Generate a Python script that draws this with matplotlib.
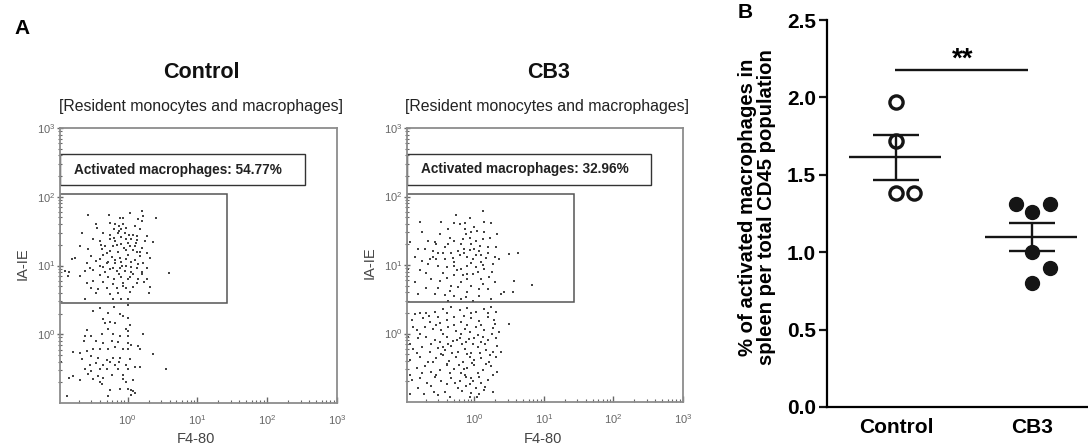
import numpy as np
import matplotlib
matplotlib.use('Agg')
import matplotlib.pyplot as plt
import matplotlib.patches as patches

plt.rcParams['font.family'] = ['Liberation Sans', 'DejaVu Sans']
plt.rcParams['mathtext.default'] = 'regular'

# ═══════════════════════════════════════════════════════════
#  Data
# ═══════════════════════════════════════════════════════════

# flow events, (log10 F4-80, log10 IA-IE)
ctrl_upper = [
    (-0.57, 1.74), (-0.27, 1.73), (-0.11, 1.69), (-0.06, 1.69), (0.04, 1.76), (0.21, 1.79),
    (0.22, 1.72), (0.41, 1.69), (-0.45, 1.60), (-0.26, 1.62), (-0.18, 1.61), (-0.12, 1.58),
    (-0.07, 1.60), (0.15, 1.67), (0.20, 1.65), (0.10, 1.57), (-0.44, 1.55), (-0.20, 1.53),
    (-0.09, 1.53), (-0.02, 1.55), (0.17, 1.53), (-0.65, 1.48), (-0.35, 1.48), (-0.14, 1.48),
    (-0.04, 1.48), (0.08, 1.45), (0.13, 1.43), (0.27, 1.43), (-0.49, 1.38), (-0.40, 1.36),
    (-0.26, 1.38), (-0.18, 1.36), (-0.02, 1.38), (0.05, 1.39), (0.13, 1.37), (0.36, 1.34),
    (-0.68, 1.29), (-0.33, 1.28), (-0.21, 1.28), (-0.09, 1.31), (0.03, 1.28), (0.10, 1.28),
    (0.20, 1.26), (-0.57, 1.24), (-0.37, 1.24), (-0.26, 1.21), (-0.14, 1.20), (-0.02, 1.23),
    (0.13, 1.20), (0.27, 1.18), (-0.76, 1.11), (-0.80, 1.09), (-0.52, 1.14), (-0.35, 1.15),
    (-0.23, 1.13), (-0.11, 1.11), (0.01, 1.15), (0.17, 1.14), (0.32, 1.11), (-0.59, 1.04),
    (-0.45, 1.07), (-0.30, 1.04), (-0.18, 1.03), (-0.09, 1.05), (0.05, 1.05), (0.22, 1.04),
    (-0.54, 0.97), (-0.40, 0.99), (-0.21, 0.97), (-0.11, 0.97), (-0.02, 0.99), (0.13, 0.97),
    (0.27, 0.97), (-0.90, 0.92), (-0.84, 0.91), (-0.61, 0.92), (-0.49, 0.94), (-0.33, 0.91),
    (-0.16, 0.92), (-0.04, 0.92), (0.05, 0.90), (0.20, 0.91), (0.59, 0.89), (-0.68, 0.85),
    (-0.85, 0.85), (-0.40, 0.86), (-0.28, 0.84), (-0.09, 0.84), (0.03, 0.84), (0.15, 0.80),
    (0.27, 0.80), (-0.59, 0.75), (-0.49, 0.78), (-0.35, 0.76), (-0.21, 0.73), (-0.07, 0.75),
    (0.13, 0.75), (0.24, 0.76), (-0.52, 0.67), (-0.42, 0.66), (-0.30, 0.68), (-0.16, 0.67),
    (-0.02, 0.68), (0.08, 0.69), (0.32, 0.69), (-0.45, 0.60), (-0.26, 0.58), (-0.14, 0.60),
    (0.03, 0.61), (0.31, 0.60), (-0.61, 0.51), (-0.21, 0.51), (-0.09, 0.51), (0.01, 0.52),
    (-0.25, 1.45), (-0.10, 1.42), (0.00, 1.33), (-0.15, 1.30), (-0.05, 1.25), (0.08, 1.22),
    (-0.30, 1.18), (-0.18, 1.08), (-0.02, 1.10), (0.10, 1.08), (-0.08, 1.00), (0.05, 0.98),
    (-0.26, 0.95), (-0.12, 0.88), (0.00, 0.80), (0.18, 1.20), (0.12, 1.33), (-0.20, 1.40),
    (-0.38, 1.30), (0.02, 1.45), (-0.12, 1.50), (0.25, 1.35), (-0.28, 1.05), (-0.40, 1.10),
    (0.08, 0.88), (-0.20, 0.80), (0.20, 0.88), (-0.06, 0.70), (-0.35, 0.98), (0.15, 1.02),
]
ctrl_lower = [
    (-0.49, 0.34), (-0.28, 0.31), (-0.11, 0.30), (-0.35, 0.22), (-0.33, 0.17), (-0.26, 0.18),
    (-0.18, 0.17), (-0.06, 0.26), (0.01, 0.24), (0.03, 0.14), (-0.59, 0.06), (-0.28, 0.07),
    (-0.02, 0.08), (0.01, 0.05), (-0.61, -0.02), (-0.52, -0.03), (-0.37, 0.00), (-0.21, 0.00),
    (-0.11, -0.03), (0.01, -0.03), (0.22, 0.00), (-0.63, -0.10), (-0.45, -0.10), (-0.35, -0.12),
    (-0.23, -0.10), (-0.14, -0.11), (0.01, -0.12), (0.05, -0.16), (0.15, -0.17), (0.17, -0.22),
    (-0.78, -0.26), (-0.68, -0.27), (-0.59, -0.24), (-0.49, -0.22), (-0.40, -0.21), (-0.28, -0.22),
    (-0.18, -0.19), (-0.07, -0.22), (0.01, -0.22), (0.36, -0.28), (-0.66, -0.36), (-0.52, -0.32),
    (-0.42, -0.35), (-0.30, -0.37), (-0.21, -0.35), (-0.11, -0.34), (-0.12, -0.40), (0.03, -0.36),
    (-0.54, -0.44), (-0.45, -0.42), (-0.35, -0.44), (-0.26, -0.40), (-0.18, -0.44), (-0.02, -0.44),
    (0.10, -0.48), (0.17, -0.48), (-0.61, -0.51), (-0.52, -0.53), (-0.40, -0.51), (-0.30, -0.50),
    (-0.14, -0.50), (0.01, -0.51), (0.55, -0.51), (-0.84, -0.63), (-0.78, -0.60), (-0.68, -0.66),
    (-0.57, -0.58), (-0.42, -0.60), (-0.35, -0.63), (-0.23, -0.59), (-0.07, -0.59), (-0.49, -0.65),
    (-0.07, -0.65), (-0.40, -0.70), (-0.37, -0.73), (0.08, -0.66), (-0.02, -0.70), (-0.26, -0.81),
    (-0.11, -0.79), (0.01, -0.79), (0.05, -0.81), (0.10, -0.85), (-0.87, -0.90), (-0.28, -0.90),
    (0.05, -0.89), (-0.95, -0.41), (0.07, -0.83), (-0.20, 0.40), (0.00, 0.42), (-0.40, 0.38),
]
cb3_upper = [
    (-0.26, 1.73), (0.12, 1.79), (-0.79, 1.63), (-0.48, 1.63), (-0.29, 1.62), (-0.21, 1.60),
    (-0.13, 1.62), (-0.07, 1.69), (0.14, 1.63), (0.24, 1.62), (-0.14, 1.53), (-0.05, 1.48),
    (0.04, 1.50), (0.14, 1.48), (-0.50, 1.45), (-0.76, 1.48), (-0.93, 1.34), (-0.67, 1.35),
    (-0.57, 1.33), (-0.38, 1.31), (-0.29, 1.35), (-0.17, 1.38), (-0.07, 1.39), (0.02, 1.35),
    (0.12, 1.38), (0.33, 1.45), (-0.81, 1.23), (-0.71, 1.23), (-0.60, 1.21), (-0.52, 1.17),
    (-0.43, 1.26), (-0.33, 1.18), (-0.24, 1.21), (-0.15, 1.24), (-0.07, 1.22), (0.00, 1.24),
    (0.07, 1.21), (0.19, 1.26), (0.31, 1.26), (0.50, 1.16), (0.62, 1.18), (-0.86, 1.11),
    (-0.76, 1.06), (-0.64, 1.09), (-0.55, 1.09), (-0.43, 1.09), (-0.31, 1.10), (-0.21, 1.14),
    (-0.10, 1.11), (-0.02, 1.09), (0.10, 1.14), (0.17, 1.10), (0.29, 1.11), (0.36, 1.09),
    (-0.95, 0.94), (-0.79, 0.92), (-0.67, 1.01), (-0.52, 0.99), (-0.40, 0.97), (-0.29, 0.99),
    (-0.19, 0.94), (-0.10, 0.99), (0.02, 0.97), (0.14, 0.94), (0.26, 1.01), (-0.62, 0.80),
    (-0.50, 0.77), (-0.40, 0.81), (-0.29, 0.85), (-0.17, 0.86), (-0.10, 0.87), (-0.02, 0.87),
    (0.10, 0.80), (0.21, 0.82), (0.57, 0.77), (0.83, 0.71), (-0.69, 0.66), (-0.52, 0.66),
    (-0.33, 0.70), (-0.24, 0.68), (-0.05, 0.69), (0.07, 0.65), (0.19, 0.65), (0.43, 0.60),
    (0.55, 0.60), (-0.81, 0.57), (-0.57, 0.58), (-0.43, 0.56), (-0.29, 0.55), (-0.12, 0.53),
    (0.07, 0.55), (0.24, 0.51), (0.38, 0.57), (-0.38, 0.48), (-0.19, 0.51), (-0.02, 0.48),
    (-0.35, 1.40), (-0.20, 1.30), (-0.05, 1.30), (0.08, 1.28), (-0.45, 1.18), (-0.15, 1.17),
    (0.02, 1.15), (0.20, 1.18), (-0.30, 1.05), (-0.05, 1.03), (0.10, 1.05), (-0.60, 1.12),
    (-0.25, 0.92), (-0.10, 0.80), (0.05, 0.90), (0.25, 0.90), (-0.45, 0.88), (-0.70, 0.88),
    (-0.35, 0.62), (-0.10, 0.60), (0.12, 0.72), (-0.55, 1.30), (0.00, 1.55), (-0.38, 1.52),
    (0.22, 1.40), (-0.12, 1.45), (0.30, 0.75), (-0.85, 0.75), (-0.20, 0.75), (0.12, 1.00),
]
cb3_lower = [
    (-0.86, 0.29), (-0.79, 0.30), (-0.57, 0.31), (-0.45, 0.36), (-0.33, 0.39), (-0.21, 0.34),
    (-0.10, 0.37), (0.02, 0.32), (0.14, 0.36), (0.24, 0.39), (0.31, 0.31), (-0.90, 0.19),
    (-0.74, 0.22), (-0.64, 0.17), (-0.52, 0.24), (-0.40, 0.19), (-0.29, 0.24), (-0.19, 0.17),
    (-0.05, 0.22), (0.07, 0.18), (0.19, 0.24), (0.29, 0.14), (0.50, 0.14), (-0.83, 0.05),
    (-0.71, 0.10), (-0.60, 0.07), (-0.48, 0.05), (-0.38, 0.10), (-0.26, 0.03), (-0.14, 0.07),
    (-0.07, 0.02), (0.02, 0.10), (0.14, 0.05), (0.26, 0.08), (0.36, 0.02), (-0.95, -0.05),
    (-0.81, -0.07), (-0.69, -0.05), (-0.57, -0.10), (-0.50, -0.12), (-0.40, -0.05), (-0.31, -0.11),
    (-0.21, -0.07), (-0.12, -0.13), (0.00, -0.06), (0.10, -0.12), (0.19, -0.10), (0.31, -0.07),
    (-0.88, -0.22), (-0.76, -0.19), (-0.64, -0.27), (-0.52, -0.21), (-0.43, -0.24), (-0.33, -0.18),
    (-0.24, -0.27), (-0.14, -0.22), (-0.05, -0.28), (0.05, -0.19), (0.17, -0.24), (0.26, -0.27),
    (0.38, -0.27), (-0.93, -0.39), (-0.79, -0.34), (-0.67, -0.41), (-0.55, -0.36), (-0.45, -0.32),
    (-0.36, -0.40), (-0.26, -0.35), (-0.17, -0.41), (-0.07, -0.34), (0.00, -0.39), (0.10, -0.36),
    (0.21, -0.41), (0.31, -0.35), (-0.83, -0.51), (-0.71, -0.48), (-0.62, -0.56), (-0.50, -0.53),
    (-0.40, -0.46), (-0.29, -0.52), (-0.19, -0.57), (-0.10, -0.51), (0.00, -0.46), (0.12, -0.53),
    (0.24, -0.48), (0.33, -0.56), (-0.90, -0.68), (-0.79, -0.65), (-0.57, -0.63), (-0.48, -0.70),
    (-0.33, -0.65), (-0.21, -0.69), (-0.12, -0.63), (-0.02, -0.70), (0.07, -0.64), (0.19, -0.68),
    (-0.81, -0.80), (-0.62, -0.77), (-0.43, -0.85), (-0.24, -0.80), (-0.12, -0.76), (-0.05, -0.87),
    (0.02, -0.80), (0.14, -0.82), (0.26, -0.86), (-0.93, -0.89), (-0.52, -0.90), (-0.07, -0.92),
    (0.07, -0.89), (-0.70, 0.30), (-0.40, 0.30), (-0.05, 0.30), (0.20, 0.30), (-0.55, 0.12),
    (-0.30, 0.12), (-0.10, 0.12), (0.10, 0.12), (-0.78, 0.00), (-0.45, -0.01), (-0.20, 0.00),
    (0.05, -0.02), (0.25, 0.00), (-0.62, -0.15), (-0.38, -0.16), (-0.18, -0.15), (-0.02, -0.16),
    (0.15, -0.15), (-0.82, -0.28), (-0.48, -0.30), (-0.32, -0.28), (-0.10, -0.30), (0.08, -0.28),
    (0.22, -0.32), (-0.60, -0.42), (-0.40, -0.44), (-0.22, -0.46), (-0.04, -0.43), (0.16, -0.44),
    (-0.75, -0.58), (-0.55, -0.60), (-0.35, -0.58), (-0.14, -0.60), (0.05, -0.58), (0.26, -0.60),
    (-0.68, -0.72), (-0.40, -0.74), (-0.28, -0.72), (-0.06, -0.74), (0.10, -0.72), (-0.18, -0.84),
    (0.04, -0.92), (-0.35, -0.92), (-0.72, -0.88), (-0.92, -0.60), (-0.93, -0.15), (-0.88, 0.10),
    (0.32, -0.18), (0.28, 0.20), (-0.15, 0.25), (-0.65, 0.25), (-0.25, -0.10), (-0.08, -0.08),
    (0.12, -0.05), (-0.50, 0.15), (-0.15, -0.52), (-0.45, -0.20), (-0.05, -0.65), (0.15, -0.78),
    (-0.58, -0.85),
]

flow_titles = ['Control', 'CB3']
gate_pct = ['54.77%', '32.96%']

# gate (log10 units): F4-80 lo/hi, IA-IE lo/hi
GATE = (-0.97, 1.43, 0.46, 2.04)
LABEL_BOX = (-0.97, 2.54, 2.17, 2.62)

# panel B: % activated macrophages per CD45
groups = ['Control', 'CB3']
ctrl_vals = [1.97, 1.72, 1.38, 1.38]
cb3_vals = [1.31, 1.31, 1.26, 1.00, 0.90, 0.80]
ctrl_jitter = [0.0, 0.0, 0.0, 0.13]
cb3_jitter = [-0.12, 0.13, 0.0, 0.0, 0.13, 0.0]

W, H = 1088, 447


def fbox(l, t, r, b):
    return [l / W, 1 - b / H, (r - l) / W, (b - t) / H]


# ═══════════════════════════════════════════════════════════
#  Figure
# ═══════════════════════════════════════════════════════════

fig = plt.figure(figsize=(W / 100, H / 100), dpi=100, facecolor='white')

flow_boxes = [fbox(60, 128, 337, 403), fbox(407, 128, 683, 402)]
flow_data = [(ctrl_upper, ctrl_lower), (cb3_upper, cb3_lower)]

for i, (box, (up, lo)) in enumerate(zip(flow_boxes, flow_data)):
    ax = fig.add_axes(box)
    pts = np.array(up + lo)
    ax.scatter(10 ** pts[:, 0], 10 ** pts[:, 1], s=4.5, marker='s',
               c='#444444', linewidths=0)
    ax.set_xscale('log')
    ax.set_yscale('log')
    ax.set_xlim(10 ** -0.97, 10 ** 3)
    ax.set_ylim(10 ** -1.0, 10 ** 3)
    ax.set_xticks([1, 10, 100, 1000])
    ax.set_yticks([1, 10, 100, 1000])
    for sp in ax.spines.values():
        sp.set_color('#8c8c8c')
        sp.set_linewidth(1.3)
    ax.tick_params(axis='x', which='both', direction='in', colors='#666',
                   labelsize=8, labelcolor='#666', pad=7)
    ax.tick_params(axis='y', which='both', direction='inout', colors='#666',
                   labelsize=8, labelcolor='#666', pad=1)
    ax.tick_params(which='major', length=4, width=1)
    ax.tick_params(which='minor', length=2.5, width=0.8)

    # gate + label box
    gx0, gx1, gy0, gy1 = GATE
    ax.add_patch(patches.Rectangle((10 ** gx0, 10 ** gy0),
                                   10 ** gx1 - 10 ** gx0, 10 ** gy1 - 10 ** gy0,
                                   fill=False, ec='#555', lw=1.1))
    bx0, bx1, by0, by1 = LABEL_BOX
    ax.add_patch(patches.Rectangle((10 ** bx0, 10 ** by0),
                                   10 ** bx1 - 10 ** bx0, 10 ** by1 - 10 ** by0,
                                   fc='white', ec='#333', lw=1.0))
    ax.text(10 ** -0.77, 10 ** 2.395, f'Activated macrophages: {gate_pct[i]}',
            fontsize=9.8, fontweight='bold', color='#222', va='center', ha='left')

    cx = box[0] + box[2] / 2
    fig.text(cx + 0.003, 1 - 72 / H, flow_titles[i], fontsize=15.5, fontweight='bold',
             ha='center', va='center', color='#111')
    fig.text(cx + 0.002, 1 - 106 / H, '[Resident monocytes and macrophages]',
             fontsize=11.4, ha='center', va='center', color='#222')
    fig.text(box[0] - 37 / W, box[1] + box[3] / 2 + 0.005, 'IA-IE', rotation=90,
             fontsize=10.5, ha='center', va='center', color='#444')
    fig.text(cx - 0.002, 1 - 439 / H, 'F4-80', fontsize=10.5,
             ha='center', va='center', color='#444')

fig.text(22 / W, 1 - 28 / H, 'A', fontsize=15, fontweight='bold',
         ha='center', va='center')

# === Panel B ===
axb = fig.add_axes(fbox(827, 20, 1088, 407))
ink = '#151515'

xs_c = 0 + np.array(ctrl_jitter)
xs_b = 1 + np.array(cb3_jitter)
axb.plot(xs_c, ctrl_vals, 'o', ms=9.5, mfc='white', mec=ink, mew=2.4,
         clip_on=False, zorder=3)
axb.plot(xs_b, cb3_vals, 'o', ms=10, mfc=ink, mec=ink, clip_on=False, zorder=3)

for gx, vals in zip([0, 1], [ctrl_vals, cb3_vals]):
    v = np.array(vals)
    m = v.mean()
    sem = v.std(ddof=1) / np.sqrt(len(v))
    axb.hlines(m, gx - 0.345, gx + 0.33, color=ink, lw=1.7, zorder=4)
    axb.hlines([m - sem, m + sem], gx - 0.17, gx + 0.17, color=ink, lw=1.7, zorder=4)
    axb.vlines(gx, m - sem, m + sem, color=ink, lw=1.7, zorder=4)

# significance bar
axb.hlines(2.18, -0.01, 0.97, color=ink, lw=1.7)
axb.text(0.49, 2.245, '**', fontsize=20, fontweight='bold', ha='center', va='center')

axb.set_xlim(-0.507, 1.41)
axb.set_ylim(0, 2.5)
axb.set_yticks([0, 0.5, 1.0, 1.5, 2.0, 2.5])
axb.set_yticklabels([f'{t:.1f}' for t in [0, 0.5, 1.0, 1.5, 2.0, 2.5]])
axb.set_xticks([0, 1])
axb.set_xticklabels(groups)
for lab in axb.get_xticklabels() + axb.get_yticklabels():
    lab.set_fontweight('bold')
axb.tick_params(axis='y', labelsize=15, width=1.6, length=6, pad=2, color=ink)
axb.tick_params(axis='x', labelsize=15, length=0, pad=8)
axb.spines['top'].set_visible(False)
axb.spines['right'].set_visible(False)
axb.spines['left'].set_linewidth(1.6)
axb.spines['bottom'].set_linewidth(1.6)

fig.text(757 / W, 1 - 207 / H,
         '% of activated macrophages in\nspleen per total CD45 population',
         rotation=90, fontsize=14.6, fontweight='bold', ha='center', va='center',
         multialignment='center', linespacing=1.05)
fig.text(745 / W, 1 - 13 / H, 'B', fontsize=15, fontweight='bold',
         ha='center', va='center')

fig.savefig('out.png', dpi=100, facecolor='white')
